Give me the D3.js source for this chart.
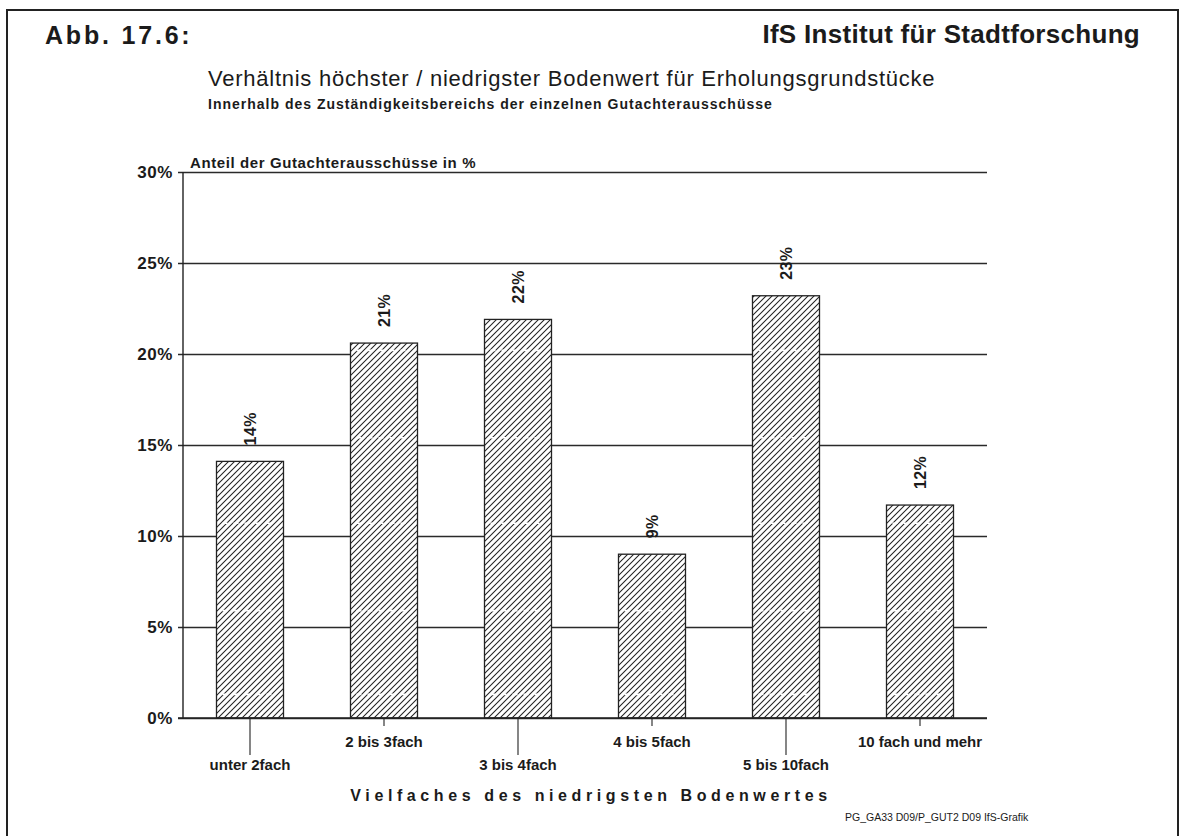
<!DOCTYPE html>
<html lang="de">
<head>
<meta charset="utf-8">
<script src="https://cdn.jsdelivr.net/npm/d3@7"></script>
<style>
  html, body { margin: 0; padding: 0; background: #fff; }
  svg { display: block; }
  text { fill: #1b1b1b; font-family: "Liberation Sans", Arial, Helvetica, sans-serif; }
  .narrow { font-family: "Liberation Sans Narrow", "Liberation Sans", Arial, sans-serif; }
</style>
</head>
<body>
<script>
// Share of expert committees by ratio of highest to lowest land value
const categories = ["unter 2fach", "2 bis 3fach", "3 bis 4fach", "4 bis 5fach", "5 bis 10fach", "10 fach und mehr"];
const values = [14.1, 20.6, 21.9, 9.0, 23.2, 11.7];
const valueLabels = ["14%", "21%", "22%", "9%", "23%", "12%"];
const yTicks = [0, 5, 10, 15, 20, 25, 30];
const innerRules = [1.3, 5.9, 10.7, 15.4, 20.2];

const W = 1181, H = 836;
const margin = { left: 183, right: 194, top: 172, bottom: 118 };

const svg = d3.select("body").append("svg")
  .attr("width", W).attr("height", H);

// diagonal hatch used for the bars
const defs = svg.append("defs");
const hs = 6;
const pat = defs.append("pattern")
  .attr("id", "hatch")
  .attr("patternUnits", "userSpaceOnUse")
  .attr("width", hs).attr("height", hs);
pat.append("rect").attr("width", hs).attr("height", hs).attr("fill", "#fff");
pat.append("path")
  .attr("d", `M-1,1 L1,-1 M0,${hs} L${hs},0 M${hs - 1},${hs + 1} L${hs + 1},${hs - 1}`)
  .attr("stroke", "#222").attr("stroke-width", 1.05);

// page frame
svg.append("path")
  .attr("d", `M7,${H} L7,10 L1178,10 L1178,${H}`)
  .attr("fill", "none").attr("stroke", "#222").attr("stroke-width", 2);

// header
svg.append("text").attr("x", 45).attr("y", 44)
  .attr("font-size", 25).attr("font-weight", "bold")
  .attr("letter-spacing", 2.8).text("Abb. 17.6:");
svg.append("text").attr("x", 1140).attr("y", 43)
  .attr("text-anchor", "end")
  .attr("font-size", 26).attr("font-weight", "bold")
  .attr("letter-spacing", 0.3).text("IfS Institut für Stadtforschung");

svg.append("text").attr("x", 208).attr("y", 86)
  .attr("font-size", 22).attr("letter-spacing", 0.75)
  .text("Verhältnis höchster / niedrigster Bodenwert für Erholungsgrundstücke");
svg.append("text").attr("x", 208).attr("y", 109)
  .attr("font-size", 14).attr("font-weight", "bold").attr("letter-spacing", 1)
  .text("Innerhalb des Zuständigkeitsbereichs der einzelnen Gutachterausschüsse");

const x = d3.scaleBand()
  .domain(categories)
  .range([margin.left, W - margin.right])
  .paddingInner(0.5).paddingOuter(0.25);

const y = d3.scaleLinear()
  .domain([0, 30])
  .range([H - margin.bottom, margin.top]);

// horizontal grid with tick labels
const yAxis = d3.axisLeft(y)
  .tickValues(yTicks)
  .tickFormat(d => d + "%")
  .tickSize(-(W - margin.right - margin.left + 5))
  .tickPadding(5);

const gy = svg.append("g")
  .attr("transform", `translate(${margin.left - 5},0)`)
  .call(yAxis);
gy.select(".domain").remove();
gy.selectAll(".tick line")
  .attr("stroke", "#2a2a2a").attr("stroke-width", 1.3);
gy.selectAll(".tick text")
  .attr("font-size", 17).attr("font-weight", "bold")
  .attr("letter-spacing", 0.6)
  .attr("fill", "#1b1b1b")
  .style("font-family", "'Liberation Sans', Arial, sans-serif");

// vertical axis line
svg.append("line")
  .attr("x1", margin.left).attr("x2", margin.left)
  .attr("y1", y(30)).attr("y2", y(0))
  .attr("stroke", "#222").attr("stroke-width", 1.4);

svg.append("text").attr("x", 190).attr("y", 168)
  .attr("font-size", 15).attr("font-weight", "bold").attr("letter-spacing", 0.6)
  .text("Anteil der Gutachterausschüsse in %");

// bars
const bars = svg.append("g");
bars.selectAll("rect")
  .data(values)
  .join("rect")
  .attr("x", (d, i) => x(categories[i]))
  .attr("y", d => y(d))
  .attr("width", x.bandwidth())
  .attr("height", d => y(0) - y(d))
  .attr("fill", "url(#hatch)")
  .attr("stroke", "#222").attr("stroke-width", 1.3);

// faint light rules running through the bars
bars.selectAll("g.rules")
  .data(values)
  .join("g")
  .attr("class", "rules")
  .each(function (d, i) {
    d3.select(this).selectAll("line")
      .data(innerRules.filter(r => r < d))
      .join("line")
      .attr("x1", x(categories[i]) + 6)
      .attr("x2", x(categories[i]) + x.bandwidth() - 6)
      .attr("y1", r => y(r)).attr("y2", r => y(r))
      .attr("stroke", "#fff").attr("stroke-width", 1.6)
      .attr("stroke-dasharray", "5,6");
  });

// value labels, rotated
svg.append("g").selectAll("text")
  .data(values)
  .join("text")
  .attr("transform", (d, i) =>
    `translate(${x(categories[i]) + x.bandwidth() / 2 + 6},${y(d) - 16}) rotate(-90)`)
  .attr("font-size", 16).attr("font-weight", "bold").attr("letter-spacing", 0.4)
  .text((d, i) => valueLabels[i]);

// category axis with staggered labels
const xAxis = d3.axisBottom(x).tickSize(0).tickFormat("");
const gx = svg.append("g")
  .attr("transform", `translate(0,${y(0)})`)
  .call(xAxis);
gx.select(".domain")
  .attr("d", `M${margin.left - 5},0H${W - margin.right}`)
  .attr("stroke", "#222").attr("stroke-width", 1.4);

gx.selectAll(".tick").each(function (d, i) {
  const t = d3.select(this);
  const low = i % 2 === 0;
  t.append("line")
    .attr("y1", 0).attr("y2", low ? 37 : 8)
    .attr("stroke", "#222").attr("stroke-width", 1.1);
  t.append("text")
    .attr("class", "narrow")
    .attr("y", low ? 52 : 29)
    .attr("text-anchor", "middle")
    .attr("font-size", 15).attr("font-weight", "bold")
    .text(d);
});

svg.append("text")
  .attr("x", 591).attr("y", 801)
  .attr("text-anchor", "middle")
  .attr("font-size", 16).attr("font-weight", "bold")
  .attr("letter-spacing", 4.6)
  .text("Vielfaches des niedrigsten Bodenwertes");

svg.append("text")
  .attr("class", "narrow")
  .attr("x", 845).attr("y", 821)
  .attr("font-size", 10.5)
  .text("PG_GA33 D09/P_GUT2 D09 IfS-Grafik");
</script>
</body>
</html>
